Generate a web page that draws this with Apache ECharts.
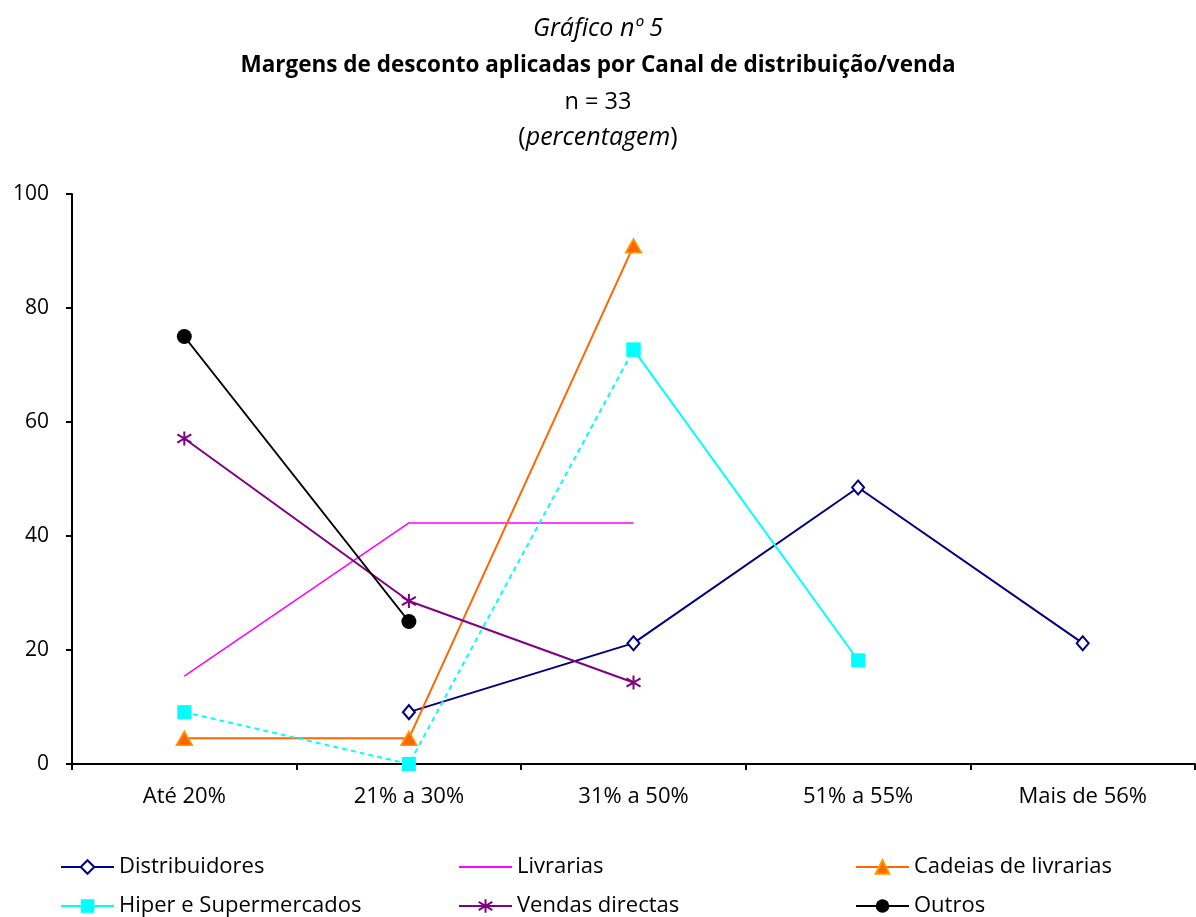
<!DOCTYPE html>
<html>
<head>
<meta charset="utf-8">
<script src="https://cdn.jsdelivr.net/npm/echarts@6/dist/echarts.min.js"></script>
<style>
  html, body { margin: 0; padding: 0; background: #fff; }
  #chart { width: 1196px; height: 917px; }
</style>
</head>
<body>
<div id="chart"></div>
<script>
// Discount margin brackets (category axis)
const categories = ['Até 20%', '21% a 30%', '31% a 50%', '51% a 55%', 'Mais de 56%'];
const yTicks = [0, 20, 40, 60, 80, 100];

// Share of respondents per distribution channel (%)
const distribuidores = [null, 9.1, 21.2, 48.5, 21.2];
const livrarias      = [15.4, 42.3, 42.3, null, null];
const cadeias        = [4.5, 4.5, 90.9, null, null];
const hiper          = [9.1, 0, 72.7, 18.2, null];
const vendas         = [57.1, 28.6, 14.3, null, null];
const outros         = [75, 25, null, null, null];

// Hiper e Supermercados: dashed up to "31% a 50%", solid afterwards
const hiperSplit = 2;
const hiperDashed = hiper.map((v, i) => (i <= hiperSplit ? v : null));
const hiperSolid  = hiper.map((v, i) => (i >= hiperSplit ? v : null));

const FONT = 'Open Sans';
const asterisk = 'path://M5,0L5,10M0.7,2L9.3,8M0.7,8L9.3,2';

const chart = echarts.init(document.getElementById('chart'), null, { renderer: 'canvas' });

const legendCommon = {
  orient: 'vertical',
  top: 856,
  height: 90,
  padding: 0,
  itemWidth: 53,
  itemHeight: 17,
  itemGap: 17,
  textStyle: { fontFamily: FONT, fontSize: 22, color: '#000', padding: [0, 0, 0, 0] },
  selectedMode: false
};

const titleText = (size, extra) => Object.assign(
  { fontFamily: FONT, fontSize: size, fontWeight: 'normal', color: '#000' }, extra || {});

chart.setOption({
  animation: false,
  backgroundColor: '#fff',
  textStyle: { fontFamily: FONT },
  title: [
    { text: 'Gráfico nº 5', left: 'center', top: 11,
      textStyle: titleText(25, { fontStyle: 'italic' }) },
    { text: 'Margens de desconto aplicadas por Canal de distribuição/venda', left: 'center', top: 49,
      textStyle: titleText(22.5, { fontWeight: 'bold' }) },
    { text: 'n = 33', left: 'center', top: 85,
      textStyle: titleText(23.5) },
    { text: '({i|percentagem})', left: 'center', top: 120,
      textStyle: titleText(25, { rich: { i: { fontFamily: FONT, fontSize: 25, fontStyle: 'italic', color: '#000' } } }) }
  ],
  legend: [
    Object.assign({}, legendCommon, { left: 60, data: ['Distribuidores', 'Hiper e Supermercados'] }),
    Object.assign({}, legendCommon, { left: 458, data: [
      { name: 'Livrarias', itemStyle: { opacity: 0 } }, 'Vendas directas'] }),
    Object.assign({}, legendCommon, { left: 855, data: ['Cadeias de livrarias', 'Outros'] })
  ],
  grid: { left: 72, right: 1, top: 194, bottom: 153, containLabel: false },
  xAxis: {
    type: 'category',
    data: categories,
    boundaryGap: true,
    axisLine: { lineStyle: { color: '#000', width: 2 } },
    axisTick: { show: true, alignWithLabel: false, length: 6, lineStyle: { color: '#000', width: 2 } },
    axisLabel: { color: '#000', fontFamily: FONT, fontSize: 22, margin: 22 },
    splitLine: { show: false }
  },
  yAxis: {
    type: 'value',
    min: yTicks[0],
    max: yTicks[yTicks.length - 1],
    interval: yTicks[1] - yTicks[0],
    axisLine: { show: true, lineStyle: { color: '#000', width: 2 } },
    axisTick: { show: true, length: 6, lineStyle: { color: '#000', width: 2 } },
    axisLabel: { color: '#000', fontFamily: FONT, fontSize: 21, margin: 23 },
    splitLine: { show: false }
  },
  series: [
    { name: 'Distribuidores', type: 'line', data: distribuidores,
      symbol: 'emptyDiamond', symbolSize: [12, 14], showAllSymbol: true,
      lineStyle: { color: '#000080', width: 2 },
      itemStyle: { color: '#000080', borderColor: '#000080', borderWidth: 1.5 } },
    { name: 'Livrarias', type: 'line', data: livrarias, symbol: 'none',
      lineStyle: { color: '#FF00FF', width: 1.5 }, itemStyle: { color: '#FF00FF' } },
    { name: 'Cadeias de livrarias', type: 'line', data: cadeias,
      symbol: 'triangle', symbolSize: [16, 14],
      lineStyle: { color: '#FF6600', width: 2 },
      itemStyle: { color: '#FF6600', borderColor: '#FF9900', borderWidth: 1.5 } },
    { name: 'Hiper e Supermercados', type: 'line', data: hiperSolid,
      symbol: 'rect', symbolSize: 14,
      lineStyle: { color: '#00FFFF', width: 2 },
      itemStyle: { color: '#00FFFF' }, z: 3 },
    { name: 'Hiper e Supermercados (tracejado)', type: 'line', data: hiperDashed,
      symbol: 'rect', symbolSize: 14,
      lineStyle: { color: '#00FFFF', width: 2, type: [5, 4] },
      itemStyle: { color: '#00FFFF' }, z: 3 },
    { name: 'Vendas directas', type: 'line', data: vendas,
      symbol: asterisk, symbolSize: 14,
      lineStyle: { color: '#800080', width: 2 },
      itemStyle: { color: '#800080', borderColor: '#800080', borderWidth: 2 } },
    { name: 'Outros', type: 'line', data: outros,
      symbol: 'circle', symbolSize: 15,
      lineStyle: { color: '#000', width: 2 },
      itemStyle: { color: '#000' } }
  ]
});
</script>
</body>
</html>
